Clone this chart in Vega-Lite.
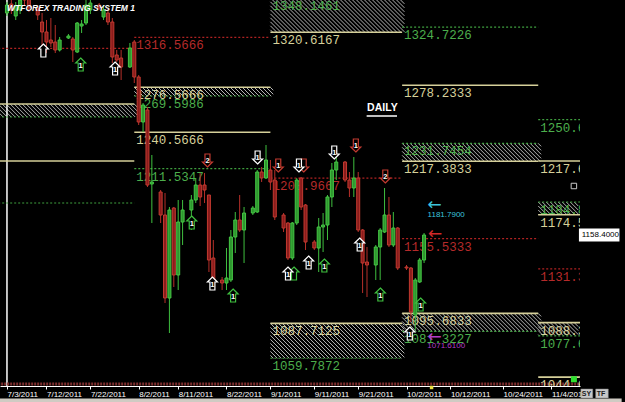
{
"$schema": "https://vega.github.io/schema/vega-lite/v6.json",
"width": 580, "height": 386,
"autosize": {"type": "none"},
"padding": {"left": 0, "top": 0, "right": 45, "bottom": 16},
"background": "#000000",
"title": {"text": "WTFOREX TRADING SYSTEM 1", "anchor": "start", "frame": "group", "offset": -13, "dx": 7, "color": "#ffffff", "font": "Liberation Sans", "fontSize": 8.5, "fontStyle": "italic", "fontWeight": "bold"},
"config": {"view": {"stroke": null}},
"datasets": {
"candles": [
{"d":"2011-07-03","o":1336.0,"h":1344.8,"l":1333.6,"c":1342.4},
{"d":"2011-07-04","o":1343.2,"h":1346.4,"l":1335.2,"c":1338.4},
{"d":"2011-07-05","o":1333.6,"h":1344.8,"l":1330.4,"c":1341.6},
{"d":"2011-07-06","o":1338.4,"h":1350.4,"l":1335.2,"c":1346.4},
{"d":"2011-07-07","o":1354.4,"h":1362.4,"l":1342.4,"c":1346.4},
{"d":"2011-07-08","o":1350.4,"h":1358.4,"l":1336.8,"c":1340.0},
{"d":"2011-07-10","o":1340.0,"h":1342.4,"l":1330.4,"c":1334.4},
{"d":"2011-07-11","o":1328.8,"h":1336.0,"l":1300.8,"c":1320.8},
{"d":"2011-07-12","o":1320.8,"h":1330.4,"l":1304.0,"c":1312.8},
{"d":"2011-07-13","o":1314.4,"h":1332.0,"l":1308.8,"c":1312.0},
{"d":"2011-07-14","o":1312.8,"h":1326.4,"l":1304.0,"c":1306.4},
{"d":"2011-07-15","o":1306.4,"h":1316.8,"l":1305.2,"c":1314.4},
{"d":"2011-07-17","o":1316.0,"h":1319.2,"l":1315.2,"c":1317.6},
{"d":"2011-07-18","o":1315.2,"h":1316.8,"l":1296.8,"c":1306.4},
{"d":"2011-07-19","o":1304.8,"h":1328.8,"l":1304.0,"c":1328.0},
{"d":"2011-07-20","o":1325.6,"h":1330.4,"l":1320.0,"c":1327.2},
{"d":"2011-07-21","o":1328.0,"h":1346.4,"l":1326.4,"c":1342.4},
{"d":"2011-07-22","o":1338.4,"h":1348.0,"l":1335.2,"c":1344.0},
{"d":"2011-07-24","o":1342.4,"h":1344.0,"l":1338.4,"c":1340.0},
{"d":"2011-07-25","o":1332.8,"h":1342.4,"l":1330.4,"c":1338.4},
{"d":"2011-07-26","o":1336.0,"h":1340.0,"l":1326.4,"c":1328.8},
{"d":"2011-07-27","o":1328.8,"h":1332.0,"l":1296.0,"c":1300.8},
{"d":"2011-07-28","o":1302.4,"h":1306.4,"l":1296.8,"c":1298.4},
{"d":"2011-07-29","o":1300.0,"h":1306.4,"l":1282.4,"c":1292.8},
{"d":"2011-07-31","o":1292.8,"h":1312.0,"l":1292.0,"c":1308.0},
{"d":"2011-08-01","o":1312.8,"h":1314.4,"l":1280.0,"c":1284.8},
{"d":"2011-08-02","o":1284.8,"h":1286.4,"l":1246.4,"c":1248.8},
{"d":"2011-08-03","o":1248.8,"h":1264.0,"l":1240.8,"c":1262.4},
{"d":"2011-08-04","o":1258.4,"h":1260.8,"l":1196.8,"c":1198.4},
{"d":"2011-08-05","o":1199.2,"h":1222.4,"l":1168.0,"c":1200.8},
{"d":"2011-08-07","o":1192.8,"h":1194.4,"l":1168.0,"c":1174.4},
{"d":"2011-08-08","o":1174.4,"h":1192.0,"l":1104.0,"c":1108.0},
{"d":"2011-08-09","o":1108.0,"h":1180.8,"l":1080.0,"c":1178.4},
{"d":"2011-08-10","o":1180.0,"h":1180.8,"l":1116.8,"c":1126.4},
{"d":"2011-08-11","o":1126.4,"h":1186.4,"l":1114.4,"c":1168.8},
{"d":"2011-08-12","o":1168.8,"h":1186.4,"l":1150.4,"c":1178.4},
{"d":"2011-08-14","o":1178.4,"h":1190.4,"l":1162.4,"c":1186.4},
{"d":"2011-08-15","o":1186.4,"h":1204.0,"l":1184.0,"c":1198.4},
{"d":"2011-08-16","o":1198.4,"h":1208.0,"l":1181.6,"c":1188.8},
{"d":"2011-08-17","o":1198.4,"h":1208.0,"l":1184.0,"c":1194.4},
{"d":"2011-08-18","o":1190.4,"h":1190.4,"l":1128.8,"c":1138.4},
{"d":"2011-08-19","o":1140.0,"h":1154.4,"l":1120.0,"c":1122.4},
{"d":"2011-08-21","o":1122.4,"h":1124.8,"l":1114.4,"c":1120.0},
{"d":"2011-08-22","o":1120.0,"h":1148.0,"l":1114.4,"c":1124.0},
{"d":"2011-08-23","o":1122.4,"h":1162.4,"l":1120.8,"c":1156.8},
{"d":"2011-08-24","o":1156.8,"h":1176.8,"l":1144.0,"c":1170.4},
{"d":"2011-08-25","o":1170.4,"h":1190.4,"l":1160.8,"c":1162.4},
{"d":"2011-08-26","o":1162.4,"h":1180.8,"l":1136.0,"c":1176.0},
{"d":"2011-08-28","o":1176.0,"h":1181.6,"l":1174.4,"c":1180.0},
{"d":"2011-08-29","o":1176.8,"h":1210.4,"l":1176.0,"c":1208.8},
{"d":"2011-08-30","o":1208.8,"h":1212.8,"l":1200.8,"c":1204.0},
{"d":"2011-08-31","o":1204.0,"h":1230.4,"l":1203.2,"c":1218.4},
{"d":"2011-09-01","o":1210.4,"h":1218.4,"l":1194.4,"c":1200.8},
{"d":"2011-09-02","o":1202.4,"h":1210.4,"l":1170.4,"c":1172.8},
{"d":"2011-09-04","o":1174.4,"h":1176.0,"l":1160.8,"c":1164.0},
{"d":"2011-09-05","o":1168.0,"h":1168.8,"l":1138.4,"c":1140.0},
{"d":"2011-09-06","o":1140.0,"h":1168.8,"l":1138.4,"c":1168.0},
{"d":"2011-09-07","o":1168.0,"h":1204.0,"l":1166.4,"c":1202.4},
{"d":"2011-09-08","o":1204.0,"h":1204.8,"l":1178.4,"c":1180.8},
{"d":"2011-09-09","o":1182.4,"h":1183.2,"l":1146.4,"c":1152.8},
{"d":"2011-09-11","o":1152.8,"h":1154.4,"l":1146.4,"c":1148.0},
{"d":"2011-09-12","o":1148.0,"h":1172.0,"l":1128.8,"c":1164.8},
{"d":"2011-09-13","o":1164.8,"h":1176.0,"l":1144.8,"c":1166.4},
{"d":"2011-09-14","o":1166.4,"h":1190.4,"l":1154.4,"c":1188.8},
{"d":"2011-09-15","o":1188.8,"h":1216.0,"l":1180.8,"c":1210.4},
{"d":"2011-09-16","o":1210.4,"h":1220.8,"l":1202.4,"c":1216.8},
{"d":"2011-09-18","o":1216.8,"h":1217.6,"l":1200.8,"c":1202.4},
{"d":"2011-09-19","o":1202.4,"h":1208.8,"l":1188.8,"c":1196.0},
{"d":"2011-09-20","o":1196.0,"h":1220.8,"l":1188.8,"c":1204.0},
{"d":"2011-09-21","o":1204.0,"h":1208.8,"l":1160.8,"c":1162.4},
{"d":"2011-09-22","o":1162.4,"h":1163.2,"l":1112.0,"c":1136.0},
{"d":"2011-09-23","o":1136.8,"h":1148.8,"l":1108.8,"c":1134.4},
{"d":"2011-09-25","o":1134.4,"h":1150.4,"l":1122.4,"c":1148.8},
{"d":"2011-09-26","o":1148.8,"h":1164.0,"l":1122.4,"c":1162.4},
{"d":"2011-09-27","o":1160.8,"h":1196.0,"l":1160.0,"c":1174.4},
{"d":"2011-09-28","o":1174.4,"h":1188.8,"l":1148.8,"c":1150.4},
{"d":"2011-09-29","o":1150.4,"h":1176.8,"l":1148.8,"c":1164.0},
{"d":"2011-09-30","o":1164.0,"h":1164.8,"l":1130.4,"c":1132.0},
{"d":"2011-10-02","o":1132.8,"h":1134.4,"l":1130.4,"c":1132.0},
{"d":"2011-10-03","o":1132.0,"h":1132.8,"l":1088.8,"c":1096.8},
{"d":"2011-10-04","o":1094.4,"h":1124.0,"l":1082.4,"c":1122.4},
{"d":"2011-10-05","o":1120.8,"h":1140.0,"l":1120.0,"c":1138.4},
{"d":"2011-10-06","o":1138.4,"h":1160.0,"l":1136.0,"c":1158.4}
],
"levels": [
{"z":"A","d":"2011-07-01","d2":"2011-08-01","p":1307.7,"k":"r"},
{"z":"A","d":"2011-07-01","d2":"2011-08-01","p":1263.2,"k":"c"},
{"z":"A","d":"2011-07-01","d2":"2011-08-01","p":1252.8,"k":"g"},
{"z":"A","d":"2011-07-01","d2":"2011-08-01","p":1217.6,"k":"c"},
{"z":"A","d":"2011-07-01","d2":"2011-08-01","p":1184.0,"k":"g"},
{"z":"B","d":"2011-08-01","d2":"2011-09-01","p":1316.5666,"k":"r"},
{"z":"B","d":"2011-08-01","d2":"2011-09-01","p":1276.5666,"k":"c"},
{"z":"B","d":"2011-08-01","d2":"2011-09-01","p":1269.5986,"k":"g"},
{"z":"B","d":"2011-08-01","d2":"2011-09-01","p":1240.5666,"k":"c"},
{"z":"B","d":"2011-08-01","d2":"2011-09-01","p":1211.5347,"k":"g"},
{"z":"C","d":"2011-09-01","d2":"2011-10-01","p":1348.1461,"k":"g"},
{"z":"C","d":"2011-09-01","d2":"2011-10-01","p":1320.6167,"k":"c"},
{"z":"C","d":"2011-09-01","d2":"2011-10-01","p":1203.9667,"k":"r"},
{"z":"C","d":"2011-09-01","d2":"2011-10-01","p":1087.7125,"k":"c"},
{"z":"C","d":"2011-09-01","d2":"2011-10-01","p":1059.7872,"k":"g"},
{"z":"D","d":"2011-10-01","d2":"2011-11-01","p":1324.7226,"k":"g"},
{"z":"D","d":"2011-10-01","d2":"2011-11-01","p":1278.2333,"k":"c"},
{"z":"D","d":"2011-10-01","d2":"2011-11-01","p":1231.7454,"k":"g"},
{"z":"D","d":"2011-10-01","d2":"2011-11-01","p":1217.3833,"k":"c"},
{"z":"D","d":"2011-10-01","d2":"2011-11-01","p":1155.5333,"k":"r"},
{"z":"D","d":"2011-10-01","d2":"2011-11-01","p":1095.6833,"k":"c"},
{"z":"D","d":"2011-10-01","d2":"2011-11-01","p":1081.3227,"k":"g"},
{"z":"E","d":"2011-11-01","d2":"2011-11-12","p":1250.6533,"k":"g"},
{"z":"E","d":"2011-11-01","d2":"2011-11-12","p":1217.6333,"k":"c"},
{"z":"E","d":"2011-11-01","d2":"2011-11-12","p":1184.8125,"k":"g"},
{"z":"E","d":"2011-11-01","d2":"2011-11-12","p":1174.5667,"k":"c"},
{"z":"E","d":"2011-11-01","d2":"2011-11-12","p":1131.3333,"k":"r"},
{"z":"E","d":"2011-11-01","d2":"2011-11-12","p":1088.3125,"k":"c"},
{"z":"E","d":"2011-11-01","d2":"2011-11-12","p":1077.6429,"k":"g"},
{"z":"E","d":"2011-11-01","d2":"2011-11-12","p":1044.6833,"k":"c"}
],
"boxes": [
{"z":"A","d":"2011-07-01","d2":"2011-08-01","p":1263.2,"p2":1252.8},
{"z":"B","d":"2011-08-01","d2":"2011-09-01","p":1276.5666,"p2":1269.5986},
{"z":"C","d":"2011-09-01","d2":"2011-10-01","p":1348.1461,"p2":1320.6167},
{"z":"C","d":"2011-09-01","d2":"2011-10-01","p":1087.7125,"p2":1059.7872},
{"z":"D","d":"2011-10-01","d2":"2011-11-01","p":1231.7454,"p2":1217.3833},
{"z":"D","d":"2011-10-01","d2":"2011-11-01","p":1095.6833,"p2":1081.3227},
{"z":"E","d":"2011-11-01","d2":"2011-11-12","p":1184.8125,"p2":1174.5667},
{"z":"E","d":"2011-11-01","d2":"2011-11-12","p":1088.3125,"p2":1077.6429}
],
"arrows": [
{"d":"2011-07-11T07:00:00Z","p":1305.6,"dir":"u","k":"w","n":""},
{"d":"2011-07-19T19:00:00Z","p":1294.4,"dir":"u","k":"g","n":"1"},
{"d":"2011-07-27T15:00:00Z","p":1291.2,"dir":"u","k":"w","n":"1"},
{"d":"2011-08-14T02:00:00Z","p":1168.0,"dir":"u","k":"g","n":"1"},
{"d":"2011-08-17T16:00:00Z","p":1218.4,"dir":"d","k":"r","n":"2"},
{"d":"2011-08-18T19:00:00Z","p":1119.2,"dir":"u","k":"w","n":"1"},
{"d":"2011-08-23T12:00:00Z","p":1109.6,"dir":"u","k":"g","n":"1"},
{"d":"2011-08-29T02:00:00Z","p":1220.8,"dir":"d","k":"w","n":"1"},
{"d":"2011-09-02T19:00:00Z","p":1214.4,"dir":"d","k":"r","n":"1"},
{"d":"2011-09-08T14:00:00Z","p":1214.4,"dir":"d","k":"r","n":""},
{"d":"2011-09-07T12:00:00Z","p":1214.4,"dir":"d","k":"w","n":"1"},
{"d":"2011-09-06T09:00:00Z","p":1127.2,"dir":"u","k":"g","n":""},
{"d":"2011-09-05T00:00:00Z","p":1127.2,"dir":"u","k":"w","n":"1"},
{"d":"2011-09-09T17:00:00Z","p":1136.0,"dir":"u","k":"w","n":"1"},
{"d":"2011-09-13T07:00:00Z","p":1133.6,"dir":"u","k":"g","n":"1"},
{"d":"2011-09-15T13:00:00Z","p":1224.8,"dir":"d","k":"w","n":"1"},
{"d":"2011-09-20T11:00:00Z","p":1230.4,"dir":"d","k":"r","n":"1"},
{"d":"2011-09-21T08:00:00Z","p":1150.4,"dir":"u","k":"w","n":"1"},
{"d":"2011-09-27T04:00:00Z","p":1205.6,"dir":"d","k":"r","n":"2"},
{"d":"2011-09-26T01:00:00Z","p":1110.4,"dir":"u","k":"g","n":"1"},
{"d":"2011-10-05T05:00:00Z","p":1102.4,"dir":"u","k":"g","n":"1"},
{"d":"2011-10-02T18:00:00Z","p":1079.2,"dir":"u","k":"w","n":"1"}
],
"notes": [
{"d":"2011-10-08T09:00:00Z","p":1182.4,"t":"←","k":"cy","s":"a"},
{"d":"2011-10-11T01:00:00Z","p":1174.6,"t":"1181.7900","k":"cy","s":"n"},
{"d":"2011-10-08T09:00:00Z","p":1076.8,"t":"←","k":"mg","s":"a"},
{"d":"2011-10-11T01:00:00Z","p":1069.6,"t":"1071.6100","k":"mg","s":"n"},
{"d":"2011-10-08T12:00:00Z","p":1159.2,"t":"←","k":"rd","s":"a"}
],
"buttons": [
{"d":"2011-11-10T17:00:00Z","d2":"2011-11-13T10:00:00Z","p":1035.2,"p2":1028.0,"t":"SY"},
{"d":"2011-11-14T02:00:00Z","d2":"2011-11-16T23:00:00Z","p":1035.2,"p2":1028.0,"t":"TF"}
]
},
"encoding": {
"x": {"field": "d", "type": "temporal",
 "scale": {"type": "utc", "domain": [{"year":2011,"month":7,"date":2,"hours":13,"minutes":15,"utc":true},{"year":2011,"month":11,"date":9,"hours":9,"utc":true}]},
 "axis": {"values": [{"year":2011,"month":7,"date":3,"utc":true},{"year":2011,"month":7,"date":12,"utc":true},{"year":2011,"month":7,"date":22,"utc":true},{"year":2011,"month":8,"date":2,"utc":true},{"year":2011,"month":8,"date":11,"utc":true},{"year":2011,"month":8,"date":22,"utc":true},{"year":2011,"month":9,"date":1,"utc":true},{"year":2011,"month":9,"date":11,"utc":true},{"year":2011,"month":9,"date":21,"utc":true},{"year":2011,"month":10,"date":2,"utc":true},{"year":2011,"month":10,"date":12,"utc":true},{"year":2011,"month":10,"date":24,"utc":true},{"year":2011,"month":11,"date":4,"utc":true}],
  "labelExpr": "utcFormat(datum.value, '%-m/%-d/%Y')", "title": null, "grid": false,
  "domainColor": "#ffffff", "tickColor": "#ffffff", "tickSize": 3,
  "labelColor": "#ffffff", "labelFont": "Liberation Sans", "labelFontSize": 8, "labelAlign": "left", "labelPadding": 1, "labelOverlap": false, "labelFlush": false}},
"y": {"field": "p", "type": "quantitative",
 "scale": {"domain": [1037.6, 1346.4], "nice": false, "zero": false},
 "axis": {"orient": "right", "values": [1040,1080,1120,1200,1240,1280,1320], "format": ".4f", "title": null, "grid": false,
  "domainColor": "#ffffff", "tickColor": "#ffffff", "tickSize": 4,
  "labelColor": "#ffffff", "labelFont": "Liberation Sans", "labelFontSize": 8, "labelPadding": 3, "labelOverlap": false, "labelFlush": false}}
},
"layer": [
{"data": {"name": "boxes"}, "transform": [{"filter": "datum.z == 'A'"}],
 "mark": {"type": "point", "size": 4, "filled": false, "stroke": "#b4b4b4", "strokeWidth": 1, "opacity": 1, "clip": true,
  "shape": "M0 12L1 13M0 8L5 13M0 4L9 13M0 0L13 13M4 0L17 13M8 0L21 13M12 0L25 13M16 0L29 13M20 0L33 13M24 0L37 13M28 0L41 13M32 0L45 13M36 0L49 13M40 0L53 13M44 0L57 13M48 0L61 13M52 0L65 13M56 0L69 13M60 0L73 13M64 0L77 13M68 0L81 13M72 0L85 13M76 0L89 13M80 0L93 13M84 0L97 13M88 0L101 13M92 0L105 13M96 0L109 13M100 0L113 13M104 0L117 13M108 0L121 13M112 0L125 13M116 0L129 13M120 0L133 13M124 0L137 13M128 0L139 11M132 0L139 7M136 0L139 3"}},
{"data": {"name": "boxes"}, "transform": [{"filter": "datum.z == 'B'"}],
 "mark": {"type": "point", "size": 4, "filled": false, "stroke": "#b4b4b4", "strokeWidth": 1, "opacity": 1, "clip": true,
  "shape": "M0 8L1 9M0 4L5 9M0 0L9 9M4 0L13 9M8 0L17 9M12 0L21 9M16 0L25 9M20 0L29 9M24 0L33 9M28 0L37 9M32 0L41 9M36 0L45 9M40 0L49 9M44 0L53 9M48 0L57 9M52 0L61 9M56 0L65 9M60 0L69 9M64 0L73 9M68 0L77 9M72 0L81 9M76 0L85 9M80 0L89 9M84 0L93 9M88 0L97 9M92 0L101 9M96 0L105 9M100 0L109 9M104 0L113 9M108 0L117 9M112 0L121 9M116 0L125 9M120 0L129 9M124 0L133 9M128 0L137 9M132 0L139 7M136 0L139 3"}},
{"data": {"name": "boxes"}, "transform": [{"filter": "datum.z == 'C'"}],
 "mark": {"type": "point", "size": 4, "filled": false, "stroke": "#b4b4b4", "strokeWidth": 1, "opacity": 1, "clip": true,
  "shape": "M0 32L3 35M0 28L7 35M0 24L11 35M0 20L15 35M0 16L19 35M0 12L23 35M0 8L27 35M0 4L31 35M0 0L35 35M4 0L39 35M8 0L43 35M12 0L47 35M16 0L51 35M20 0L55 35M24 0L59 35M28 0L63 35M32 0L67 35M36 0L71 35M40 0L75 35M44 0L79 35M48 0L83 35M52 0L87 35M56 0L91 35M60 0L95 35M64 0L99 35M68 0L103 35M72 0L107 35M76 0L111 35M80 0L115 35M84 0L119 35M88 0L123 35M92 0L127 35M96 0L131 35M100 0L134 34M104 0L134 30M108 0L134 26M112 0L134 22M116 0L134 18M120 0L134 14M124 0L134 10M128 0L134 6M132 0L134 2"}},
{"data": {"name": "boxes"}, "transform": [{"filter": "datum.z == 'D'"}],
 "mark": {"type": "point", "size": 4, "filled": false, "stroke": "#b4b4b4", "strokeWidth": 1, "opacity": 1, "clip": true,
  "shape": "M0 16L2 18M0 12L6 18M0 8L10 18M0 4L14 18M0 0L18 18M4 0L22 18M8 0L26 18M12 0L30 18M16 0L34 18M20 0L38 18M24 0L42 18M28 0L46 18M32 0L50 18M36 0L54 18M40 0L58 18M44 0L62 18M48 0L66 18M52 0L70 18M56 0L74 18M60 0L78 18M64 0L82 18M68 0L86 18M72 0L90 18M76 0L94 18M80 0L98 18M84 0L102 18M88 0L106 18M92 0L110 18M96 0L114 18M100 0L118 18M104 0L122 18M108 0L126 18M112 0L130 18M116 0L134 18M120 0L138 18M124 0L139 15M128 0L139 11M132 0L139 7M136 0L139 3"}},
{"data": {"name": "boxes"}, "transform": [{"filter": "datum.z == 'E'"}],
 "mark": {"type": "point", "size": 4, "filled": false, "stroke": "#b4b4b4", "strokeWidth": 1, "opacity": 1, "clip": true,
  "shape": "M0 12L1 13M0 8L5 13M0 4L9 13M0 0L13 13M4 0L17 13M8 0L21 13M12 0L25 13M16 0L29 13M20 0L33 13M24 0L37 13M28 0L40 12M32 0L40 8M36 0L40 4"}},
{"data": {"values": [{"d": "2011-07-03", "p": 1037.6, "p2": 1346.4}]}, "mark": {"type": "rule", "color": "#ffffff", "strokeWidth": 1.5},
 "encoding": {"y2": {"field": "p2"}}},
{"data": {"values": [{"d": "2011-07-01", "d2": "2011-11-12", "p": 1039.2}]}, "mark": {"type": "rule", "color": "#7d2e2e", "strokeWidth": 3, "strokeDash": [2, 1], "clip": true},
 "encoding": {"x2": {"field": "d2"}}},
{"data": {"name": "levels"}, "mark": {"type": "rule", "clip": true},
 "encoding": {"x2": {"field": "d2"},
  "stroke": {"condition": [{"test": "datum.k == 'c'", "value": "#d6d09a"}, {"test": "datum.k == 'g'", "value": "#3f9f3f"}], "value": "#b02222"},
  "strokeDash": {"condition": {"test": "datum.k == 'c'", "value": [1, 0]}, "value": [2, 2]},
  "strokeWidth": {"condition": {"test": "datum.k == 'c'", "value": 1.6}, "value": 1.2}}},
{"data": {"name": "levels"}, "transform": [{"filter": "datum.z != 'A'"}],
 "mark": {"type": "text", "align": "left", "baseline": "top", "dx": 2, "dy": 2, "font": "Liberation Mono", "fontSize": 12.5, "clip": true},
 "encoding": {"text": {"field": "p", "format": ".4f"},
  "color": {"condition": [{"test": "datum.k == 'c'", "value": "#d6d09a"}, {"test": "datum.k == 'g'", "value": "#4cae4c"}], "value": "#b52a2a"}}},
{"data": {"name": "candles"}, "mark": {"type": "rule", "clip": true, "strokeWidth": 1},
 "encoding": {"y": {"field": "l", "type": "quantitative", "scale": {"domain": [1037.6, 1346.4], "nice": false, "zero": false}, "axis": null},
  "y2": {"field": "h"},
  "color": {"condition": {"test": "datum.c >= datum.o", "value": "#3fbf3f"}, "value": "#b8302a"}}},
{"data": {"name": "candles"}, "mark": {"type": "bar", "width": 3, "clip": true, "strokeWidth": 1},
 "encoding": {"y": {"field": "o", "type": "quantitative", "scale": {"domain": [1037.6, 1346.4], "nice": false, "zero": false}, "axis": null},
  "y2": {"field": "c"},
  "fill": {"condition": {"test": "datum.c >= datum.o", "value": "#2e962e"}, "value": "#8a1c1c"},
  "stroke": {"condition": {"test": "datum.c >= datum.o", "value": "#45c845"}, "value": "#c23a30"}}},
{"data": {"name": "arrows"}, "transform": [{"filter": "datum.dir == 'u'"}],
 "mark": {"type": "point", "shape": "M0,-7L5,-2L2.5,-2L2.5,6L-2.5,6L-2.5,-2L-5,-2Z", "size": 4, "filled": true, "fill": "#000000", "fillOpacity": 1, "strokeWidth": 1.2, "opacity": 1},
 "encoding": {"stroke": {"condition": [{"test": "datum.k == 'w'", "value": "#ffffff"}, {"test": "datum.k == 'g'", "value": "#3fbf3f"}], "value": "#c23a30"}}},
{"data": {"name": "arrows"}, "transform": [{"filter": "datum.dir == 'd'"}],
 "mark": {"type": "point", "shape": "M0,7L5,2L2.5,2L2.5,-6L-2.5,-6L-2.5,2L-5,2Z", "size": 4, "filled": true, "fill": "#000000", "fillOpacity": 1, "strokeWidth": 1.2, "opacity": 1},
 "encoding": {"stroke": {"condition": [{"test": "datum.k == 'w'", "value": "#ffffff"}, {"test": "datum.k == 'g'", "value": "#3fbf3f"}], "value": "#c23a30"}}},
{"data": {"name": "arrows"}, "transform": [{"filter": "datum.n != ''"}],
 "mark": {"type": "text", "align": "center", "baseline": "middle", "font": "Liberation Sans", "fontSize": 7.5, "fontWeight": "bold", "color": "#ffffff", "dy": 1},
 "encoding": {"text": {"field": "n"}}},
{"data": {"name": "notes"}, "transform": [{"filter": "datum.s == 'a'"}],
 "mark": {"type": "text", "align": "center", "baseline": "middle", "font": "DejaVu Sans", "fontSize": 17},
 "encoding": {"text": {"field": "t"},
  "color": {"condition": [{"test": "datum.k == 'cy'", "value": "#3cc4dc"}, {"test": "datum.k == 'mg'", "value": "#b43cc8"}], "value": "#d02a2a"}}},
{"data": {"name": "notes"}, "transform": [{"filter": "datum.s == 'n'"}],
 "mark": {"type": "text", "align": "center", "baseline": "middle", "font": "Liberation Sans", "fontSize": 8},
 "encoding": {"text": {"field": "t"},
  "color": {"condition": [{"test": "datum.k == 'cy'", "value": "#3cc4dc"}, {"test": "datum.k == 'mg'", "value": "#b43cc8"}], "value": "#d02a2a"}}},
{"data": {"values": [{"d": "2011-09-26T12:00:00Z", "p": 1260.4, "t": "DAILY"}]},
 "mark": {"type": "text", "align": "center", "baseline": "middle", "font": "Liberation Sans", "fontSize": 10.5, "fontWeight": "bold", "color": "#ffffff"},
 "encoding": {"text": {"field": "t"}}},
{"data": {"values": [{"d": "2011-09-22T22:00:00Z", "d2": "2011-09-29T20:00:00Z", "p": 1253.6}]},
 "mark": {"type": "rule", "color": "#ffffff", "strokeWidth": 1.5},
 "encoding": {"x2": {"field": "d2"}}},
{"data": {"values": [{"d": "2011-11-09T03:00:00Z", "p": 1197.6}]},
 "mark": {"type": "square", "size": 30, "filled": false, "stroke": "#c8c8c8", "strokeWidth": 1, "opacity": 1, "clip": false}},
{"data": {"values": [{"d": "2011-11-09T03:00:00Z", "p": 1043.0}]},
 "mark": {"type": "square", "size": 36, "filled": true, "color": "#30e030", "opacity": 1, "clip": false}},
{"data": {"values": [{"d": "2011-10-07T17:00:00Z", "p": 1036.4}]},
 "mark": {"type": "square", "size": 12, "filled": true, "color": "#e8e040", "opacity": 1, "clip": false}},
{"data": {"values": [{"d": "2011-07-01", "d2": "2011-11-20", "p": 1027.6, "p2": 1018.0}]},
 "mark": {"type": "rect", "fill": "#cfcbc3", "clip": false},
 "encoding": {"x2": {"field": "d2"}, "y2": {"field": "p2"}}},
{"data": {"name": "buttons"},
 "mark": {"type": "rect", "fill": "#c8c8c8", "stroke": "#808080", "strokeWidth": 0.5, "clip": false},
 "encoding": {"x2": {"field": "d2"}, "y2": {"field": "p2"}}},
{"data": {"name": "buttons"},
 "mark": {"type": "text", "align": "left", "baseline": "middle", "dx": 1, "dy": 4.5, "font": "Liberation Sans", "fontSize": 7, "fontWeight": "bold", "color": "#202020", "clip": false},
 "encoding": {"text": {"field": "t"}}},
{"data": {"values": [{"d": "2011-11-10T06:30:00Z", "d2": "2011-11-19T12:00:00Z", "p": 1163.6, "p2": 1153.2}]},
 "mark": {"type": "rect", "fill": "#ffffff", "clip": false},
 "encoding": {"x2": {"field": "d2"}, "y2": {"field": "p2"}}},
{"data": {"values": [{"d": "2011-11-10T22:00:00Z", "p": 1158.4, "t": "1158.4000"}]},
 "mark": {"type": "text", "align": "left", "baseline": "middle", "font": "Liberation Sans", "fontSize": 8, "color": "#000000", "clip": false},
 "encoding": {"text": {"field": "t"}}}
]
}
